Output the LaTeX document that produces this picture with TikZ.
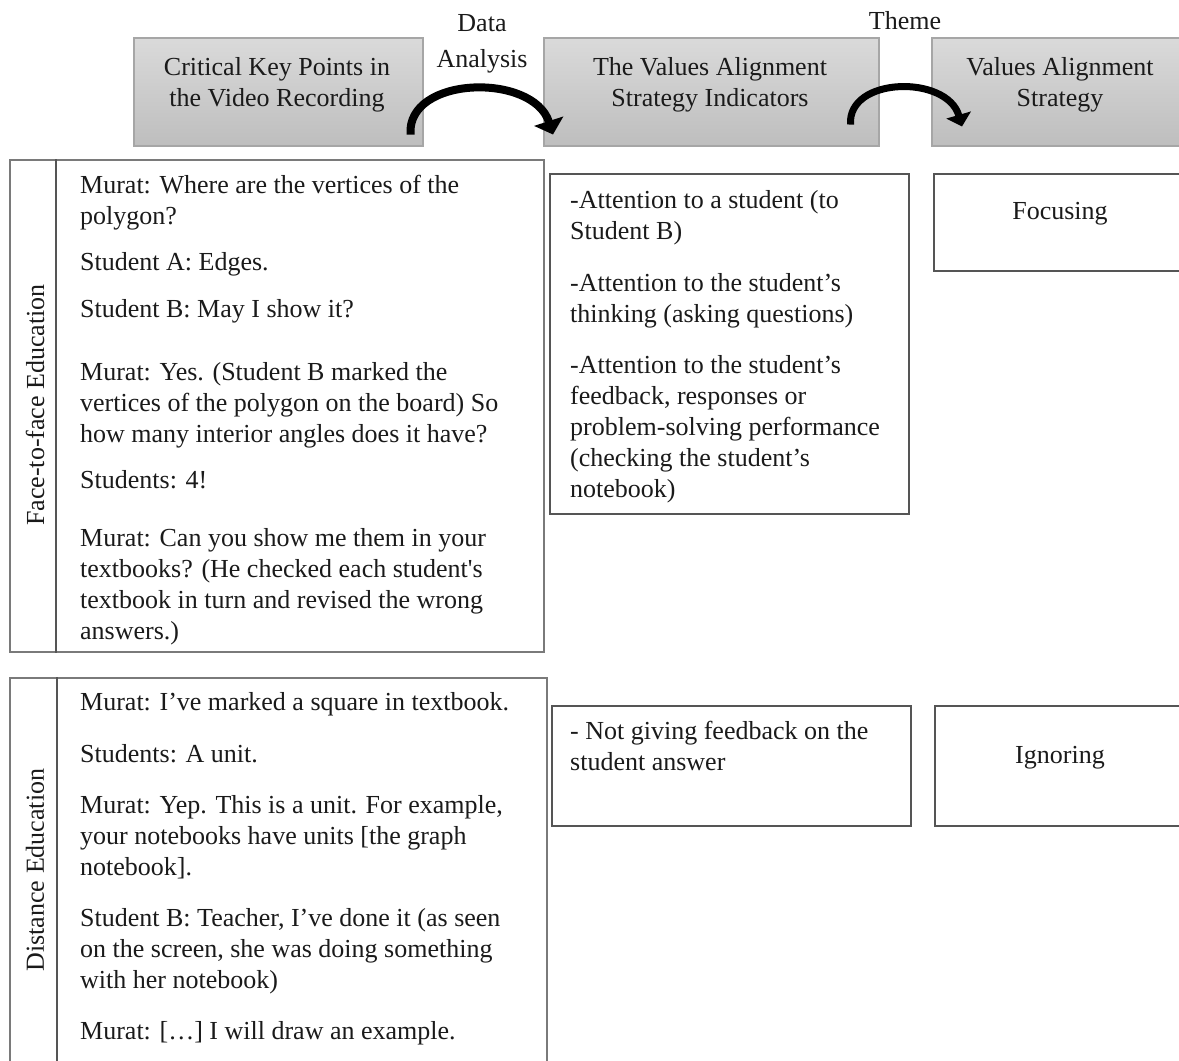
\documentclass[tikz,border=0pt]{standalone}
\usepackage{fontspec}
\setmainfont{Liberation Serif}
\usetikzlibrary{arrows.meta}
\definecolor{hdrborder}{HTML}{A6A6A6}
\definecolor{hdrtop}{HTML}{DADADA}
\definecolor{hdrbot}{HTML}{BEBEBE}
\definecolor{boxline}{HTML}{555555}
\definecolor{rowline}{HTML}{7A7A7A}
\definecolor{txtcol}{HTML}{1A1A1A}
\begin{document}
\begin{tikzpicture}[x=1pt,y=-1pt,
  txt/.style={font=\fontsize{26}{31}\selectfont, text=txtcol, inner sep=0pt, align=left, anchor=base west},
  ctxt/.style={font=\fontsize{26}{31}\selectfont, text=txtcol, inner sep=0pt, align=center, anchor=base},
  hdrbox/.style={draw=hdrborder, line width=1.5pt, top color=hdrtop, bottom color=hdrbot, inner sep=0pt, anchor=north west},
  rowbox/.style={draw=rowline, line width=1.5pt, inner sep=0pt, anchor=north west},
  cellbox/.style={draw=boxline, line width=1.8pt, inner sep=0pt, anchor=north west},
  divider/.style={draw=boxline, line width=2.6pt},
]
\useasboundingbox (0,0) rectangle (1179,1061);
\clip (0,0) rectangle (1179,1061);

% header boxes
\node[hdrbox, minimum width=289pt, minimum height=108pt] (h1) at (133,37) {};
\node[hdrbox, minimum width=335pt, minimum height=108pt] (h2) at (543,37) {};
\node[hdrbox, minimum width=270pt, minimum height=108pt] (h3) at (931,37) {};
\node[ctxt] (h1t) at (277,106) {Critical Key Points in\\the Video Recording};
\node[ctxt] (h2t) at (710,106) {The Values Alignment\\Strategy Indicators};
\node[ctxt] (h3t) at (1060,106) {Values Alignment\\Strategy};

\node[ctxt, font=\fontsize{26}{36}\selectfont] (lab1) at (482,67) {Data\\Analysis};
\node[ctxt] (lab2) at (905,29) {Theme};

% curved arrows
\coordinate (a1s) at ([xshift=-13pt,yshift=12pt]h1.south east);
\coordinate (a1e) at ([xshift=10pt,yshift=12pt]h2.south west);
\coordinate (a2s) at ([xshift=-29pt,yshift=22pt]h2.south east);
\coordinate (a2e) at ([xshift=31pt,yshift=20pt]h3.south west);
\draw[line width=8pt, -{Triangle[length=14pt,width=30pt]}] (a1s) .. controls +(-4,-59) and +(-20,-62) .. (a1e);
\draw[line width=7pt, -{Triangle[length=12pt,width=25pt]}] (a2s) .. controls +(-3,-48) and +(-15,-52) .. (a2e);

% row 1
\node[rowbox, minimum width=534pt, minimum height=492pt] (r1) at (9,159) {};
\draw[divider] ([xshift=47pt]r1.north west) -- ([xshift=47pt]r1.south west);
\node[font=\fontsize{26}{31}\selectfont, text=txtcol, inner sep=0pt, rotate=90] (r1lab) at (35,405) {Face-to-face Education};
\node[txt] (p1) at (80,224) {Murat: Where are the vertices of the\\polygon?};
\node[txt] (p2) at (80,270) {Student A: Edges.};
\node[txt] (p3) at (80,317) {Student B: May I show it?};
\node[txt] (p4) at (80,442) {Murat: Yes. (Student B marked the\\vertices of the polygon on the board) So\\how many interior angles does it have?};
\node[txt] (p5) at (80,488) {Students: 4!};
\node[txt] (p6) at (80,639) {Murat: Can you show me them in your\\textbooks? (He checked each student\textquotesingle s\\textbook in turn and revised the wrong\\answers.)};

% row 2
\node[rowbox, minimum width=537pt, minimum height=400pt] (r2) at (9,677) {};
\draw[divider] ([xshift=48pt]r2.north west) -- ([xshift=48pt]r2.south west);
\node[font=\fontsize{26}{31}\selectfont, text=txtcol, inner sep=0pt, rotate=90] (r2lab) at (35,870) {Distance Education};
\node[txt] (q1) at (80,710) {Murat: I’ve marked a square in textbook.};
\node[txt] (q2) at (80,762) {Students: A unit.};
\node[txt] (q3) at (80,875) {Murat: Yep. This is a unit. For example,\\your notebooks have units [the graph\\notebook].};
\node[txt] (q4) at (80,988) {Student B: Teacher, I’ve done it (as seen\\on the screen, she was doing something\\with her notebook)};
\node[txt] (q5) at (80,1039) {Murat: […] I will draw an example.};

% indicator boxes
\node[cellbox, minimum width=359pt, minimum height=340pt] (m1) at (549,173) {};
\node[txt] (m1a) at (570,239) {-Attention to a student (to\\Student B)};
\node[txt] (m1b) at (570,322) {-Attention to the student’s\\thinking (asking questions)};
\node[txt] (m1c) at (570,497) {-Attention to the student’s\\feedback, responses or\\problem-solving performance\\(checking the student’s\\notebook)};

\node[cellbox, minimum width=359pt, minimum height=120pt] (m2) at (551,705) {};
\node[txt] (m2a) at (570,770) {- Not giving feedback on the\\student answer};

% strategy boxes
\node[cellbox, minimum width=270pt, minimum height=97pt] (s1) at (933,173) {};
\node[ctxt] (s1t) at (1060,219) {Focusing};
\node[cellbox, minimum width=270pt, minimum height=120pt] (s2) at (934,705) {};
\node[ctxt] (s2t) at (1060,763) {Ignoring};
\end{tikzpicture}
\end{document}
